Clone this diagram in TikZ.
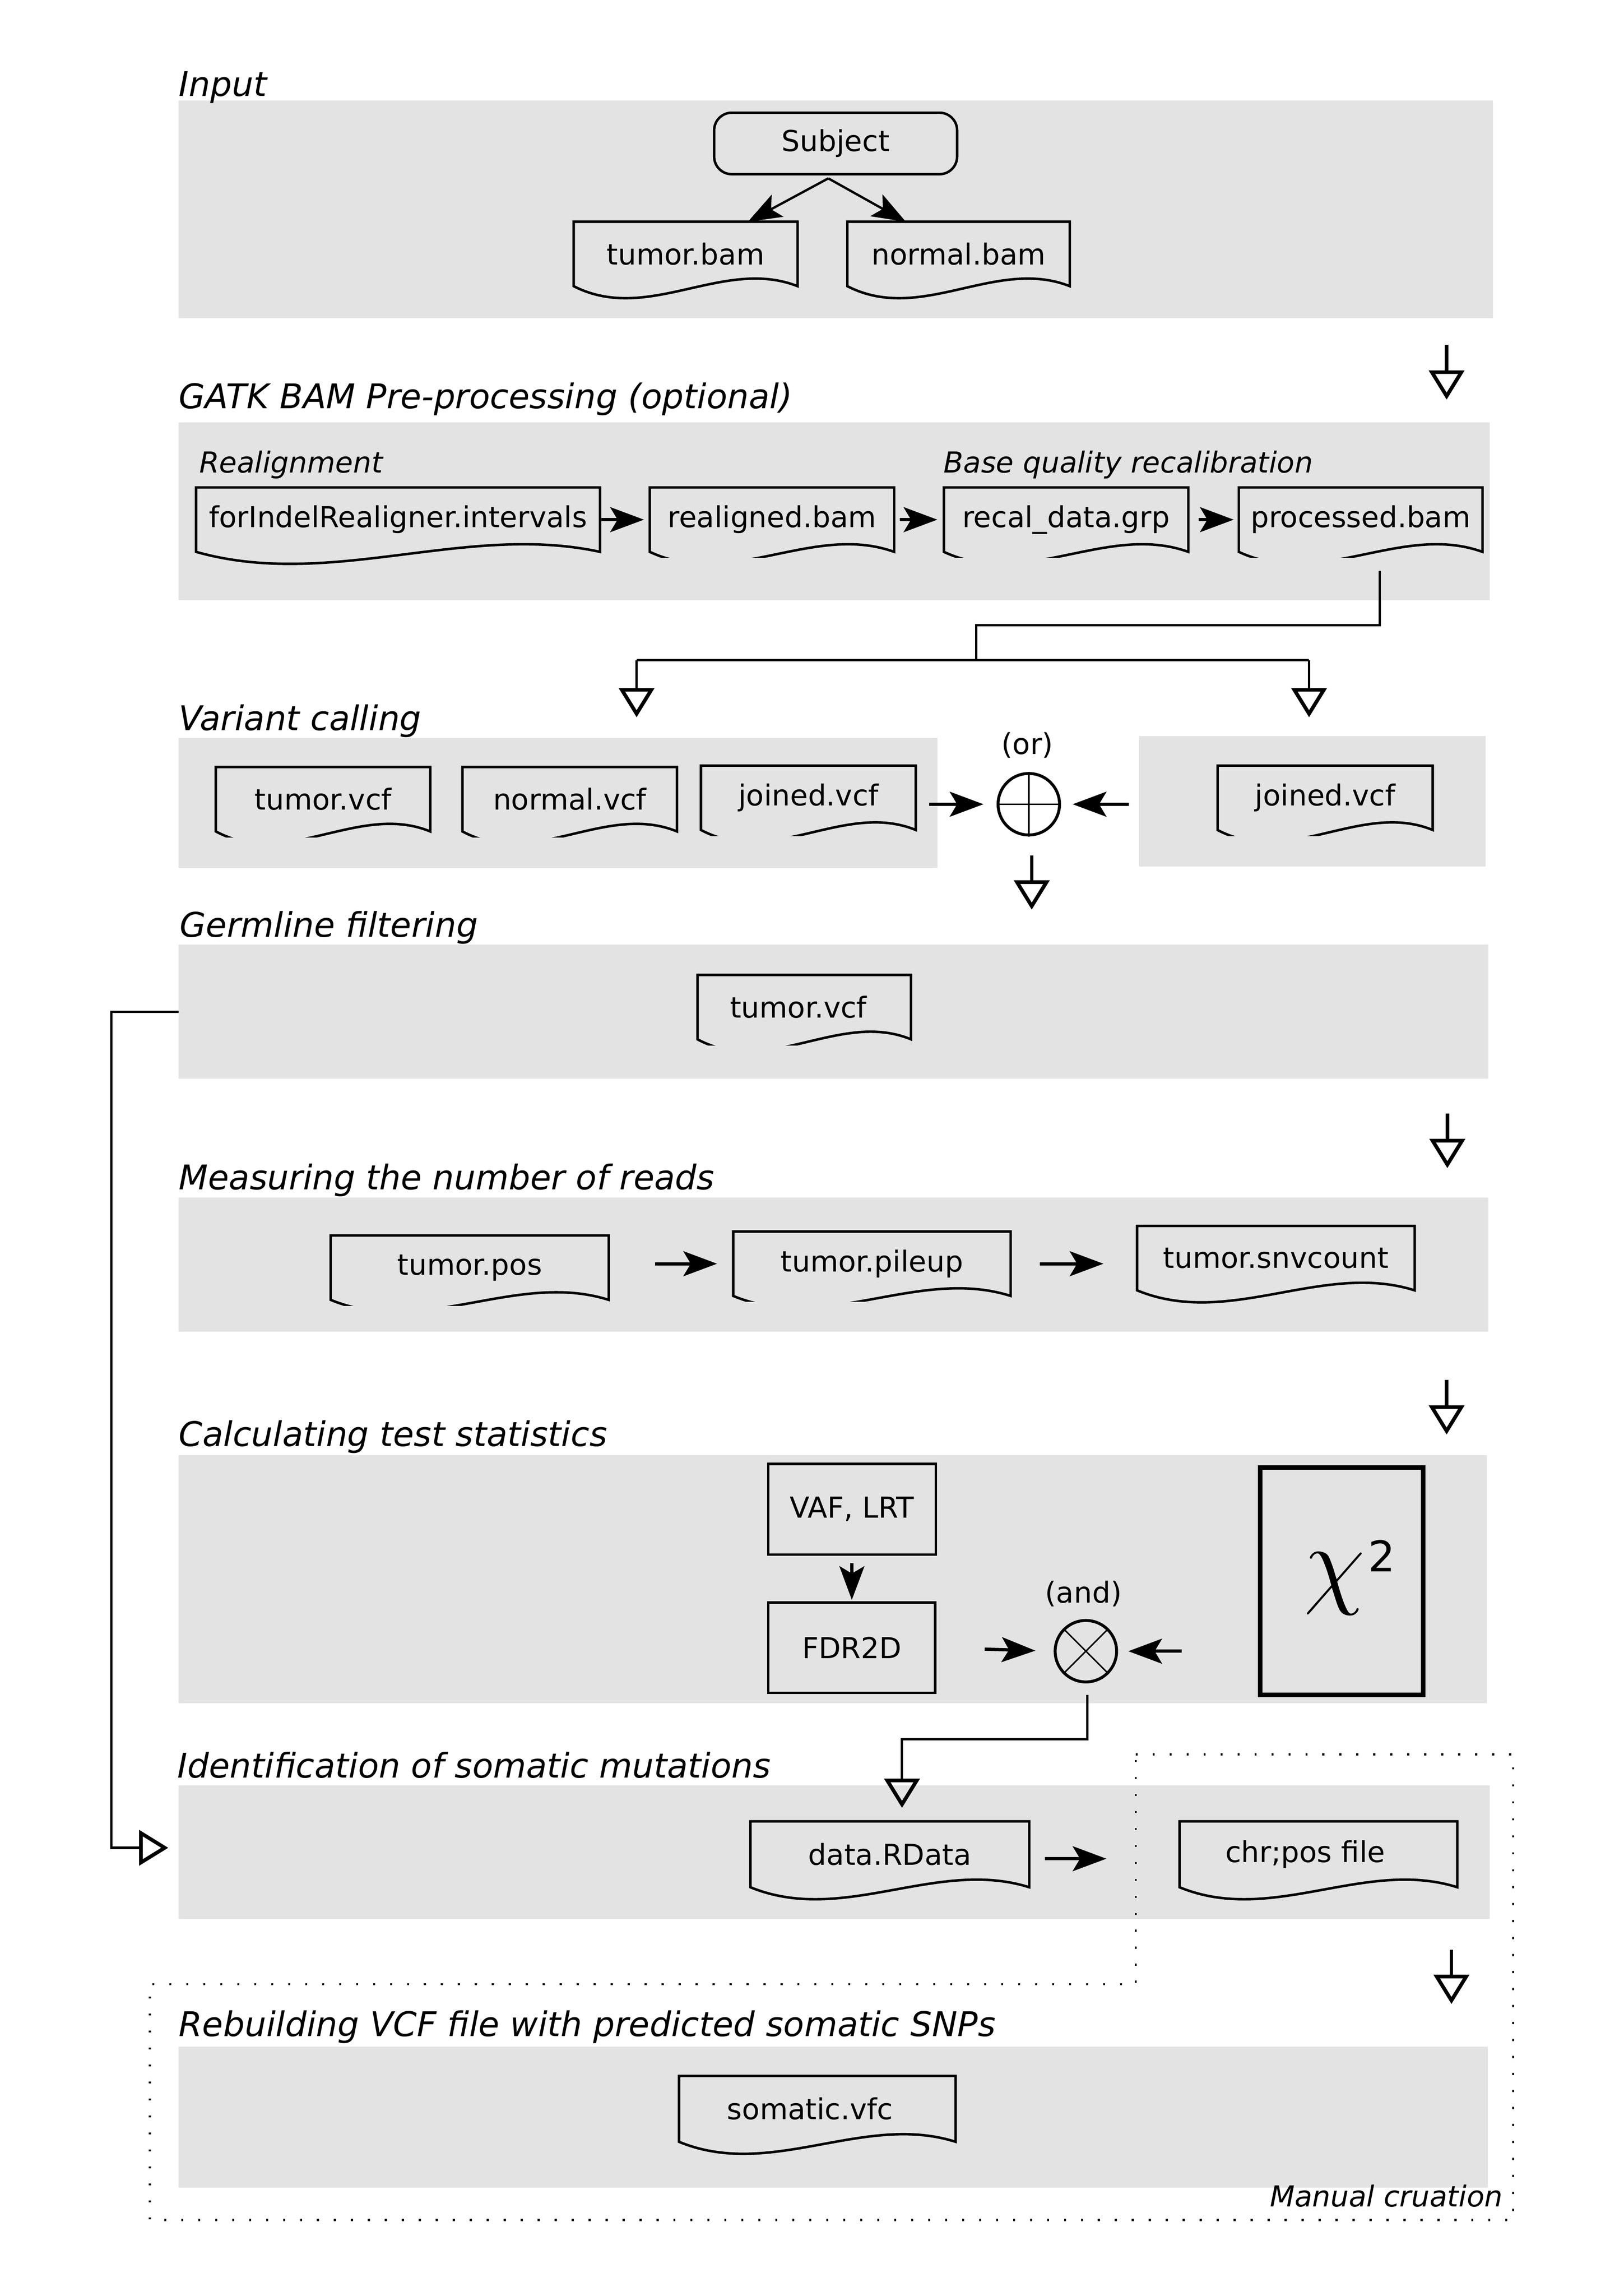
\documentclass[tikz,border=0pt]{standalone}
\usepackage{fontspec}
\setmainfont{DejaVu Sans}[ItalicFont={DejaVu Sans Oblique}]
\usetikzlibrary{arrows.meta,calc}
\definecolor{boxgray}{RGB}{227,227,227}
\newcommand\dgnf{\fontsize{19.7}{23}\selectfont}
\newcommand\dgtf{\fontsize{23.2}{27}\selectfont\itshape}
\newcommand\docline[1]{%
  \draw[docln] (#1.south west) -- (#1.north west) -- (#1.north east) -- (#1.south east)
    .. controls ($(#1.south west)!2/3!(#1.south east)+(0,-20)$) and ($(#1.south west)!1/3!(#1.south east)+(0,26)$) .. cycle;}
\newcommand\doclinec[1]{%
  \begin{scope}
    \clip ($(#1.north west)+(-5,-5)$) rectangle ($(#1.south east)+(5,4)$);
    \docline{#1}
  \end{scope}}
\tikzset{
  opentip/.tip={Triangle[open, length=20pt, width=24pt, line width=2.5pt]},
  gbox/.style={fill=boxgray, draw=none, inner sep=0pt, outer sep=0pt},
  docbox/.style={inner sep=0pt, outer sep=0pt, minimum height=44pt, font=\dgnf},
  docln/.style={line width=1.7pt, line join=miter},
  ttl/.style={anchor=base west, inner sep=0pt, font=\dgtf},
  subttl/.style={anchor=base west, inner sep=0pt, font=\dgnf\itshape},
  lbl/.style={inner sep=0pt, font=\dgnf},
  arr/.style={line width=2.2pt, -{Stealth[length=23pt,width=17pt,inset=5pt]}},
  thinarr/.style={line width=1.6pt, -{Stealth[length=23pt,width=17pt,inset=5pt]}},
  openarr/.style={line width=2.4pt, -opentip},
  elbowarr/.style={line width=1.6pt, -opentip},
  conn/.style={line width=1.6pt},
  procbox/.style={draw, line width=1.7pt, inner sep=0pt, font=\dgnf},
  gate/.style={circle, draw, line width=2pt, minimum size=42pt, inner sep=0pt},
  dotln/.style={line width=1.4pt, dash pattern=on 1.4pt off 10.2pt},
}
\begin{document}
\begin{tikzpicture}[x=1pt,y=-1pt]
\useasboundingbox (0,0) rectangle (1100,1568.5);

% ---------- grey section boxes ----------
\node[gbox, minimum width=898, minimum height=148.8] (ginput) at (571,143.1) {};
\node[gbox, minimum width=896, minimum height=121.5] (ggatk) at (570,349.25) {};
\node[gbox, minimum width=518.5, minimum height=89] (gvcl) at (381.25,548.5) {};
\node[gbox, minimum width=236.6, minimum height=89] (gvcr) at (896.7,547.5) {};
\node[gbox, minimum width=895, minimum height=91.6] (ggerm) at (569.5,691.2) {};
\node[gbox, minimum width=895, minimum height=91.7] (gmeas) at (569.5,863.85) {};
\node[gbox, minimum width=894, minimum height=169.4] (gcalc) at (569,1078.7) {};
\node[gbox, minimum width=896, minimum height=91.4] (gident) at (570,1265.3) {};
\node[gbox, minimum width=894.7, minimum height=96.4] (grebuild) at (569.35,1446.2) {};

% ---------- titles ----------
\node[ttl] (tinput) at (122,65.7) {Input};
\node[ttl] (tgatk) at (122,279) {GATK BAM Pre-processing (optional)};
\node[subttl] (trealign) at (136,323) {Realignment};
\node[subttl] (tbqr) at (644.6,323) {Base quality recalibration};
\node[ttl] (tvc) at (122,499) {Variant calling};
\node[ttl] (tgerm) at (122.6,640) {Germline filtering};
\node[ttl] (tmeas) at (122,812.5) {Measuring the number of reads};
\node[ttl] (tcalc) at (122,988) {Calculating test statistics};
\node[ttl] (tident) at (121,1214.6) {Identification of somatic mutations};
\node[ttl] (trebuild) at (122,1391) {Rebuilding VCF file with predicted somatic SNPs};

% ---------- Input ----------
\node[procbox, rounded corners=12pt, minimum width=166, minimum height=42] (subj) at (571,98) {Subject};
\node[docbox, minimum width=153] (tb) at (468.5,173.5) {tumor.bam}; \docline{tb}
\node[docbox, minimum width=152] (nb) at (655,173.5) {normal.bam}; \docline{nb}
\coordinate (sfork) at ($(subj.south)+(-5,2)$);
\draw[thinarr] (sfork) -- ($(tb.north east)!0.222!(tb.north west)$);
\draw[thinarr] (sfork) -- ($(nb.north west)!0.263!(nb.north east)$);

% ---------- GATK ----------
\node[docbox, minimum width=276] (fir) at (272,355) {forIndelRealigner.intervals}; \docline{fir}
\node[docbox, minimum width=167] (rb) at (527.5,355) {realigned.bam}; \doclinec{rb}
\node[docbox, minimum width=167] (rdg) at (728.5,355) {recal\_data.grp}; \doclinec{rdg}
\node[docbox, minimum width=166.5] (pb) at (929.75,355) {processed.bam}; \doclinec{pb}
\draw[arr, shorten <=1pt, shorten >=4pt] (fir.east) -- (rb.west);
\draw[arr, shorten <=4pt, shorten >=4.5pt] (rb.east) -- (rdg.west);
\draw[arr, shorten <=7pt, shorten >=3.5pt] (rdg.east) -- (pb.west);

% ---------- Variant calling ----------
\node[docbox, minimum width=146.5] (tv1) at (220.75,546) {tumor.vcf}; \doclinec{tv1}
\node[docbox, minimum width=146.6] (nv) at (389.3,546) {normal.vcf}; \doclinec{nv}
\node[docbox, minimum width=146.8] (jv1) at (552.4,545) {joined.vcf}; \doclinec{jv1}
\node[docbox, minimum width=147] (jv2) at (905.5,545) {joined.vcf}; \doclinec{jv2}
\node[gate] (orc) at (703,549.4) {};
\draw[line width=1pt] (orc.north) -- (orc.south) (orc.west) -- (orc.east);
\node[lbl] (ortxt) at (702,509) {(or)};
\draw[arr, shorten <=9pt, shorten >=9pt] (jv1.east |- orc.west) -- (orc.west);
\draw[arr, shorten <=7pt, shorten >=8pt] (gvcr.west |- orc.east) -- (orc.east);

% ---------- Germline ----------
\node[docbox, minimum width=145.9] (tv2) at (549.55,688) {\hspace*{-8pt}tumor.vcf}; \doclinec{tv2}

% ---------- Measuring ----------
\node[docbox, minimum width=190] (tpos) at (321,866) {tumor.pos}; \doclinec{tpos}
\node[docbox, minimum width=189.6] (tpil) at (595.8,863.3) {tumor.pileup}; \doclinec{tpil}
\node[docbox, minimum width=189.7] (tsnv) at (871.85,859.5) {tumor.snvcount}; \docline{tsnv}
\draw[arr, shorten <=31.6pt, shorten >=11pt] (tpos.east |- tpil.west) -- (tpil.west);
\draw[arr, shorten <=20pt, shorten >=23pt] (tpil.east) -- (tsnv.west |- tpil.east);

% ---------- Calculating ----------
\node[procbox, minimum width=114.4, minimum height=62] (vaf) at (582.2,1031) {VAF, LRT};
\node[procbox, minimum width=114, minimum height=61.6] (fdr) at (582,1125.6) {FDR2D};
\node[procbox, line width=3.2pt, minimum width=111.3, minimum height=155.2] (chi) at (916.75,1080.2) {};
\node[anchor=base west, inner sep=0pt] (chisym) at (891,1090) {\scalebox{3.279}{\fontsize{20.74}{24}\selectfont$\chi$}\hspace{2pt}\raisebox{16.4pt}{\fontsize{29}{29}\selectfont 2}};
\node[gate] (andc) at (742,1128) {};
\draw[line width=1pt] (andc.north west) -- (andc.south east) (andc.north east) -- (andc.south west);
\node[lbl] (andtxt) at (740.3,1088.8) {(and)};
\draw[arr, shorten <=5pt, shorten >=1pt] (vaf) -- (fdr);
\draw[arr, shorten <=33pt, shorten >=12.5pt] (fdr.east) -- (andc.west);
\draw[arr, shorten <=52pt, shorten >=7pt] (chi.west |- andc.east) -- (andc.east);

% ---------- Identification ----------
\node[docbox, minimum width=190.5, minimum height=45] (rdata) at (608.05,1266.75) {data.RData}; \docline{rdata}
\node[docbox, minimum width=189.8, minimum height=45] (chr) at (900.9,1266.75) {\hspace*{-18pt}chr;pos file}; \docline{chr}
\draw[arr, shorten <=10.7pt, shorten >=50pt] ($(rdata.east)+(0,3)$) -- ($(chr.west)+(0,3)$);

% ---------- Rebuilding ----------
\node[docbox, minimum width=189, minimum height=45] (som) at (558.5,1440.65) {\hspace*{-10pt}somatic.vfc}; \docline{som}

% ---------- section-to-section connectors ----------
\coordinate (d1s) at (988.5,235.5); \coordinate (d1e) at (988.5,273);
\draw[openarr] (d1s) -- (d1e);
\coordinate (brj) at (667,451);
\coordinate (bl) at (435,451); \coordinate (brr) at (894.5,451);
\coordinate (vcl) at (435,490); \coordinate (vcrr) at (894.5,490);
\draw[conn] ($(pb.south)+(13,13)$) -- ++(0,37) -| (brj);
\draw[conn] (bl) -- (brr);
\draw[elbowarr] (bl) -- (vcl);
\draw[elbowarr] (brr) -- (vcrr);
\coordinate (ors) at ($(orc.south)+(2,13)$); \coordinate (ore) at ($(orc.south)+(2,50)$);
\draw[openarr] (ors) -- (ore);
\draw[elbowarr] (ggerm.west) -- ++(-46,0) |- ($(gident.west)+(-7,-3)$);
\coordinate (d2s) at (989,760.8); \coordinate (d2e) at (989,798);
\draw[openarr] (d2s) -- (d2e);
\coordinate (d3s) at (988.5,942.5); \coordinate (d3e) at (988.5,980);
\draw[openarr] (d3s) -- (d3e);
\coordinate (rdtop) at ($(rdata.north)+(8.3,-9.2)$);
\draw[elbowarr] ($(andc.south)+(1,8)$) -- ++(0,30) -| (rdtop);
\coordinate (d4s) at (991.8,1332); \coordinate (d4e) at (991.8,1369);
\draw[openarr] (d4s) -- (d4e);

% ---------- manual curation region ----------
\draw[dotln] (776,1198.5) -- (1034,1198.5) -- (1034,1516.5) -- (102.4,1516.5) -- (102.4,1355.4) -- (776,1355.4) -- cycle;
\node[anchor=base east, inner sep=0pt, font=\dgnf\itshape] (manual) at (1027,1507.6) {Manual cruation};
\end{tikzpicture}
\end{document}
